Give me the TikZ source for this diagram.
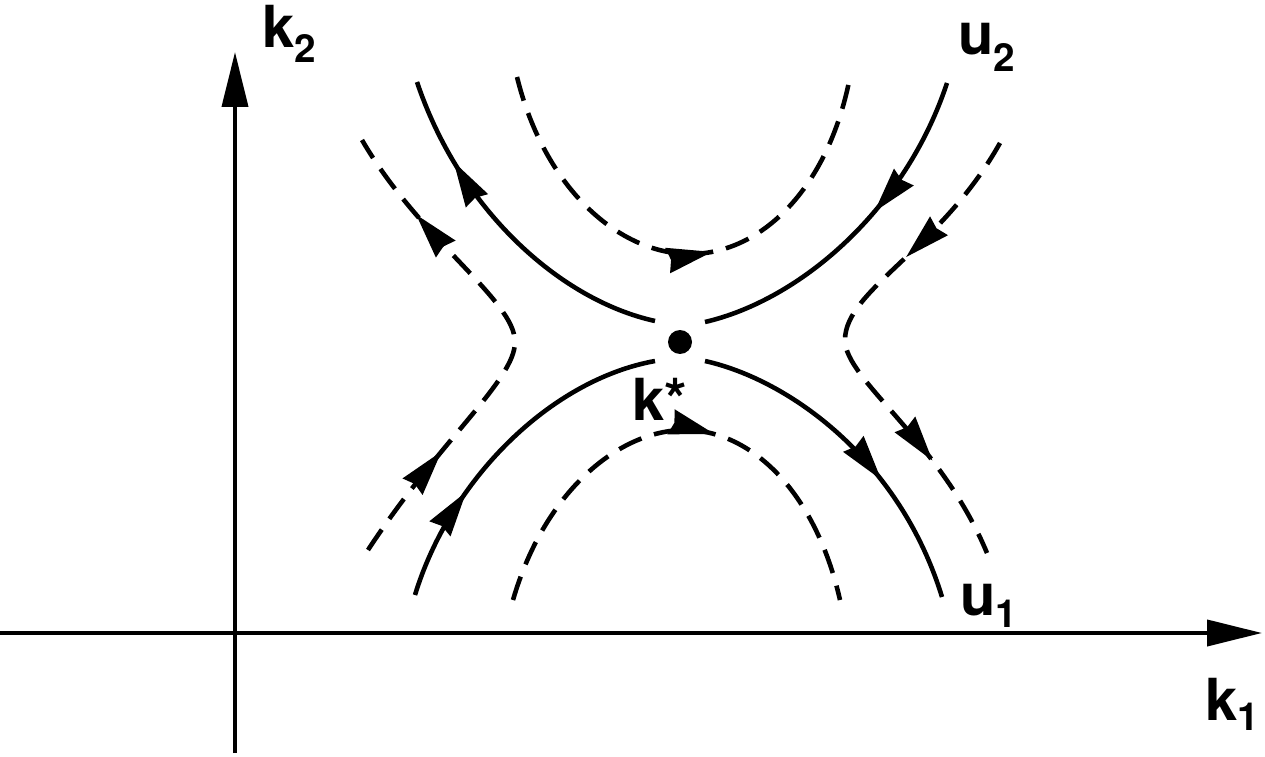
\documentclass[tikz,border=0pt]{standalone}
\usepackage{fontspec}
\setmainfont{TeX Gyre Heros}
\usetikzlibrary{arrows.meta,decorations.markings}
\newcommand{\axlab}[3]{{\fontsize{33}{38}\selectfont\bfseries #1\raisebox{-#3}{\fontsize{22}{26}\selectfont\bfseries #2}}}
\begin{document}
\begin{tikzpicture}[x={(0.02cm,0)},y={(0,-0.02cm)},
  axis/.style={line width=2.2pt,-{Triangle[length=1.1cm,width=0.52cm]}},
  sep/.style={line width=2.6pt},
  orb/.style={line width=2.6pt,dash pattern=on 14pt off 7.5pt},
  flow/.style={postaction={decorate},decoration={markings,
     mark=at position #1 with {\arrow{Stealth[length=0.9cm,width=0.5cm,inset=0.06cm]}}}},
  flowtwo/.style 2 args={postaction={decorate},decoration={markings,
     mark=at position #1 with {\arrow{Stealth[length=0.9cm,width=0.5cm,inset=0.06cm]}},
     mark=at position #2 with {\arrow{Stealth[length=0.9cm,width=0.5cm,inset=0.06cm]}}}},
  lab/.style={anchor=base west,inner sep=0pt}]
\useasboundingbox (0,0) rectangle (1265,757);
% axes
\coordinate (xs) at (0,633);
\coordinate (xe) at (1262,633);
\coordinate (ys) at (235,753);
\coordinate (ye) at (235,52);
\draw[axis] (xs) -- (xe);
\draw[axis] (ys) -- (ye);
% labels
\node[lab] (k2) at (262,48) {\axlab{k}{2}{8pt}};
\node[lab] (k1) at (1205,720) {\axlab{k}{1}{6pt}};
\node[lab] (u2) at (958,55) {\axlab{u}{2}{9.5pt}};
\node[lab] (u1) at (960,615) {\axlab{u}{1}{7pt}};
\node[lab] (ks) at (632,420) {{\fontsize{33}{38}\selectfont\bfseries k*}};
% fixed point
\node[circle,fill,inner sep=0pt,minimum size=0.48cm] (kstar) at (680,342) {};
% separatrices
\coordinate (ulA) at (655,321); \coordinate (ulB) at (417,82);
\coordinate (urA) at (947,83);  \coordinate (urB) at (705,322);
\coordinate (llA) at (415,595); \coordinate (llB) at (655,361);
\coordinate (lrA) at (705,361); \coordinate (lrB) at (942,597);
\draw[sep,flow=0.75] (ulA) .. controls (560,300) and (460,210) .. (ulB);
\draw[sep,flow=0.42] (urA) .. controls (905,210) and (800,300) .. (urB);
\draw[sep,flow=0.33] (llA) .. controls (450,480) and (550,380) .. (llB);
\draw[sep,flow=0.62] (lrA) .. controls (790,380) and (900,460) .. (lrB);
% orbits
\coordinate (lA) at (368,550); \coordinate (lV) at (515,342); \coordinate (lB) at (362,140);
\draw[orb,flowtwo={0.24}{0.82}] (lA) .. controls (440,440) and (515,380) .. (lV)
   .. controls (515,300) and (420,240) .. (lB);
\coordinate (rA) at (1000,143); \coordinate (rV) at (845,340); \coordinate (rB) at (987,553);
\draw[orb,flowtwo={0.29}{0.79}] (rA) .. controls (940,250) and (845,290) .. (rV)
   .. controls (845,380) and (940,440) .. (rB);
\coordinate (tA) at (517,77); \coordinate (tV) at (690,254); \coordinate (tB) at (850,77);
\draw[orb,flow=0.55] (tA) .. controls (545,190) and (620,254) .. (tV)
   .. controls (760,254) and (828,190) .. (tB);
\coordinate (bA) at (513,600); \coordinate (bV) at (685,430); \coordinate (bB) at (840,600);
\draw[orb,flow=0.57] (bA) .. controls (545,490) and (620,430) .. (bV)
   .. controls (750,430) and (815,490) .. (bB);
\end{tikzpicture}
\end{document}
